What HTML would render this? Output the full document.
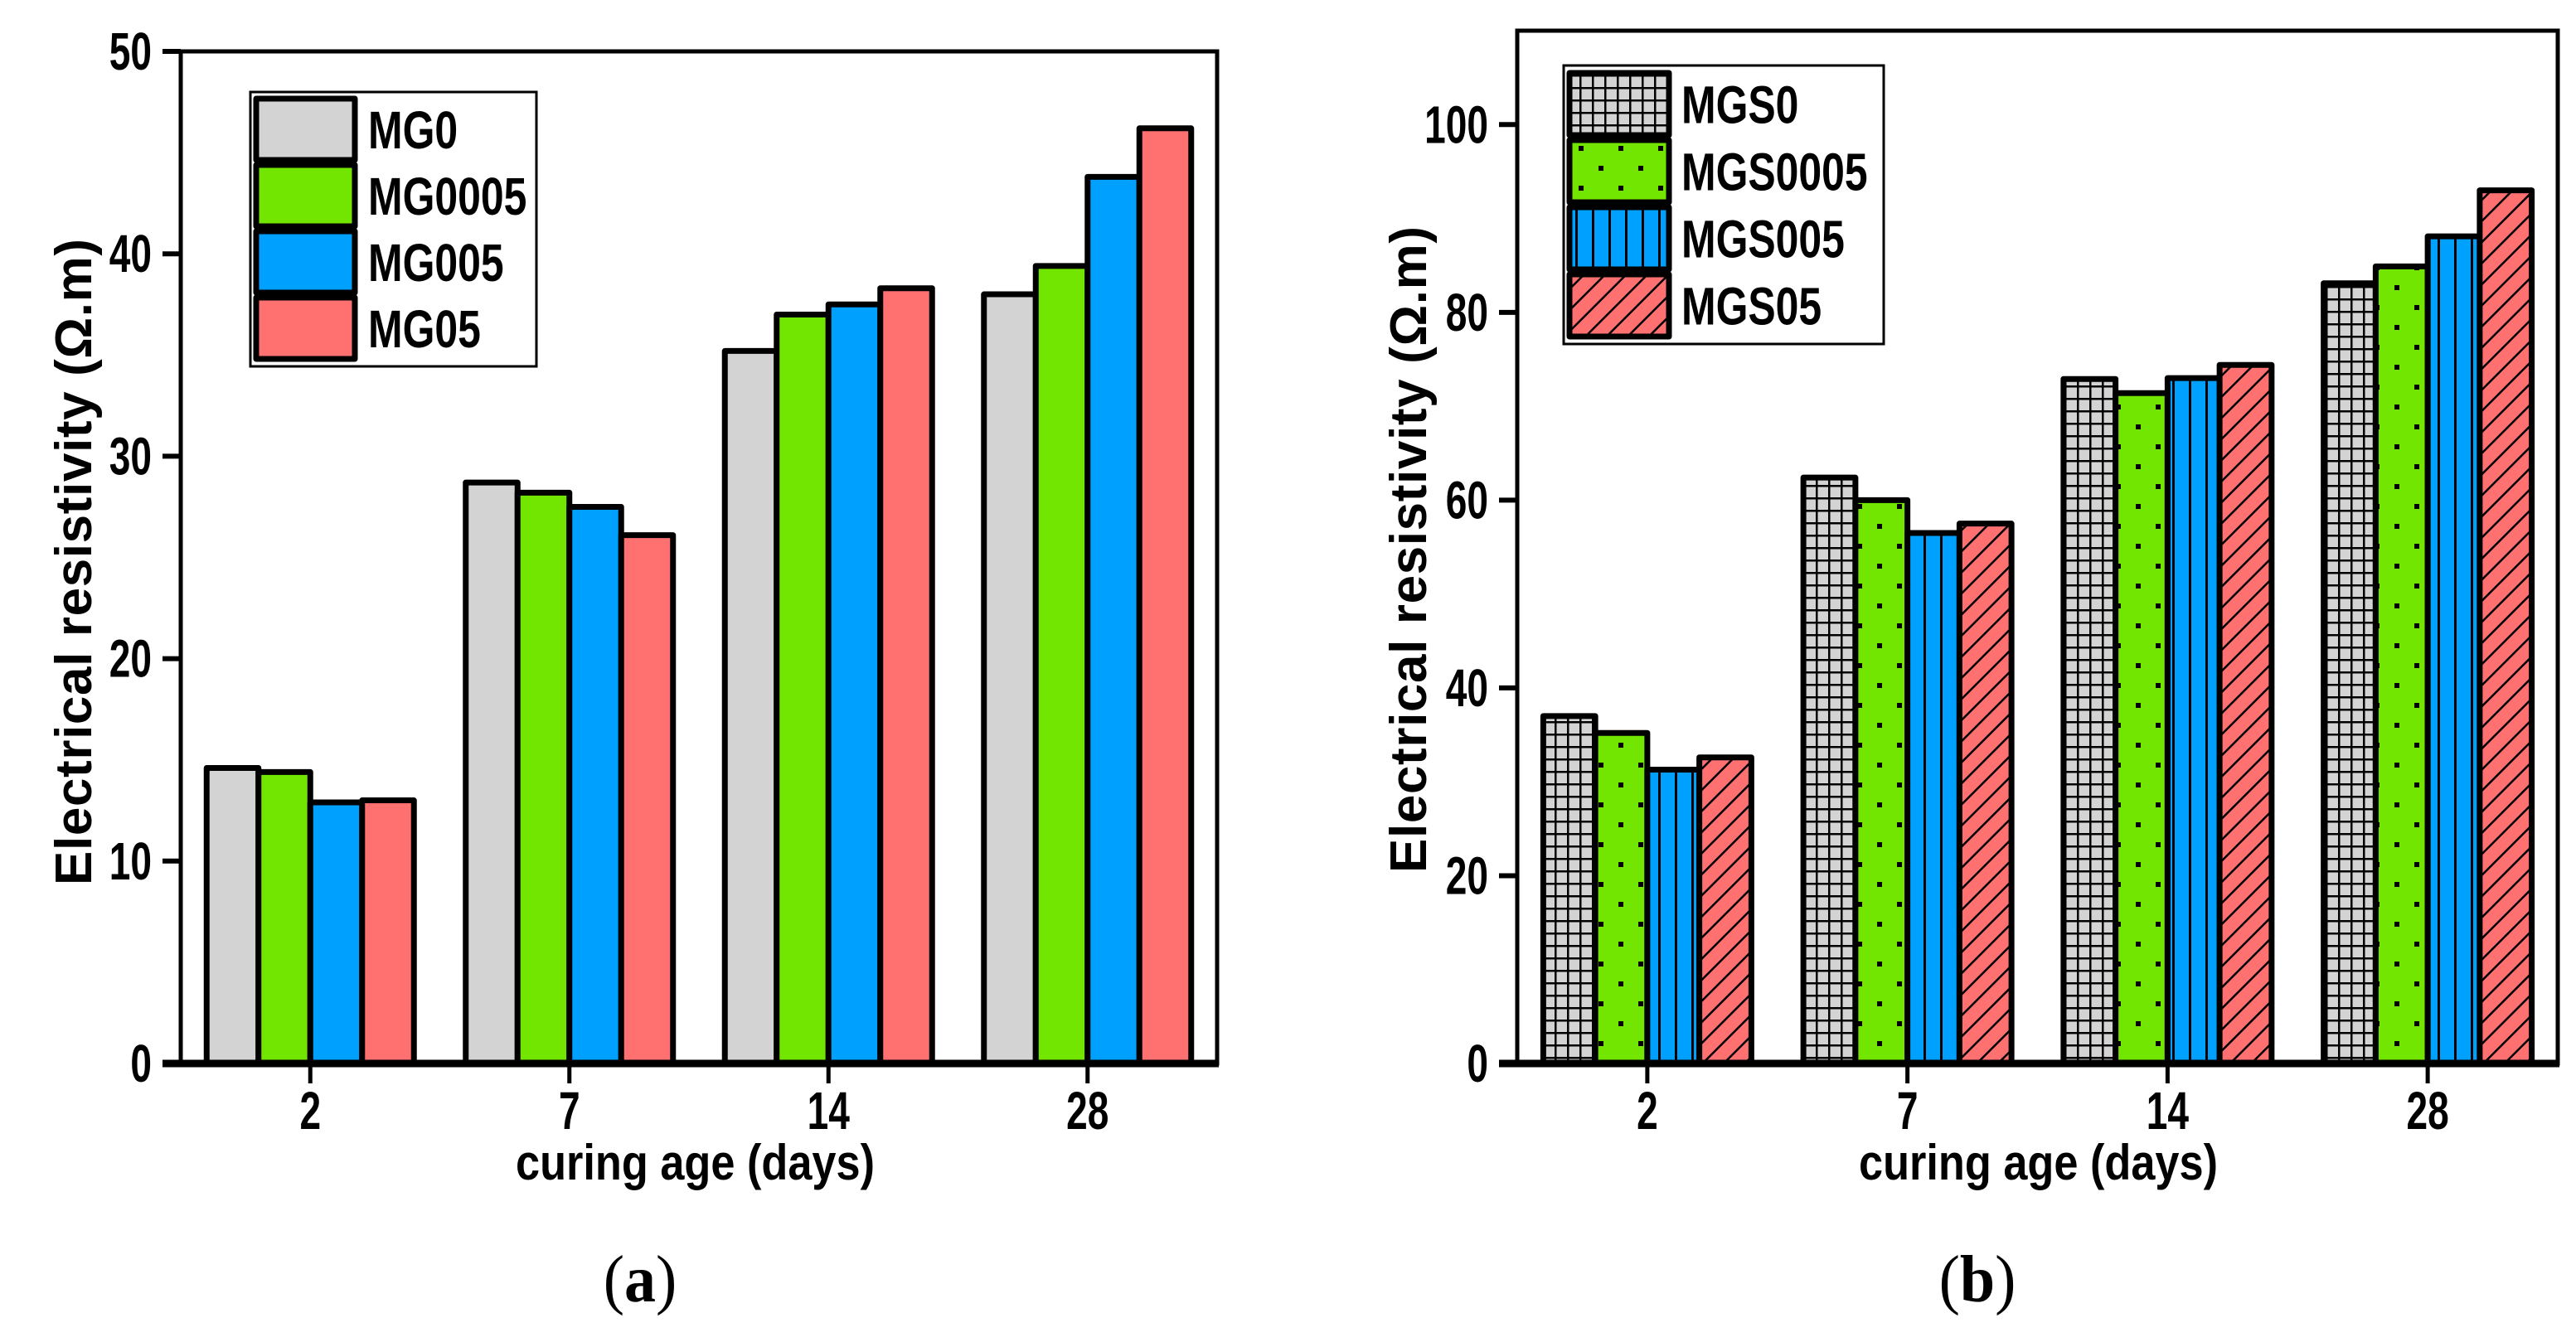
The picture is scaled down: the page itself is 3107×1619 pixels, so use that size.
<!DOCTYPE html>
<html><head><meta charset="utf-8">
<style>
html,body{margin:0;padding:0;background:#fff;}
svg{display:block;}
text{font-family:"Liberation Sans",sans-serif;font-weight:bold;fill:#000;}
text.cap{font-family:"Liberation Serif",serif;font-weight:normal;}
</style></head>
<body>
<svg id="fig" width="3107" height="1619" viewBox="0 0 3107 1619" xmlns="http://www.w3.org/2000/svg">
<defs>
<pattern id="pGrid" patternUnits="userSpaceOnUse" width="15" height="15"><rect width="15" height="15" fill="#d3d3d3"/><rect x="0" y="0" width="2.5" height="15" fill="#000"/><rect x="0" y="0" width="15" height="2.5" fill="#000"/></pattern>
<pattern id="pDot" patternUnits="userSpaceOnUse" width="48" height="48"><rect width="48" height="48" fill="#72e600"/><rect x="8" y="8" width="6" height="6" fill="#000"/><rect x="32" y="32" width="6" height="6" fill="#000"/></pattern>
<pattern id="pVert" patternUnits="userSpaceOnUse" width="20" height="20"><rect width="20" height="20" fill="#00a0ff"/><rect x="0" y="0" width="3" height="20" fill="#000"/></pattern>
<pattern id="pHatch" patternUnits="userSpaceOnUse" width="18" height="18" patternTransform="rotate(45)"><rect width="18" height="18" fill="#ff7070"/><rect x="0" y="0" width="2.5" height="18" fill="#000"/></pattern>
</defs>
</svg>
<script>
const categories = ["2","7","14","28"];
const seriesA = ["MG0","MG0005","MG005","MG05"];
const valuesA = [[14.6,28.7,35.2,38.0],[14.4,28.2,37.0,39.4],[12.9,27.5,37.5,43.8],[13.0,26.1,38.3,46.2]];
const ticksA = [0,10,20,30,40,50];
const seriesB = ["MGS0","MGS0005","MGS005","MGS05"];
const valuesB = [[37.0,62.4,72.9,83.1],[35.2,60.0,71.4,84.9],[31.3,56.5,73.0,88.1],[32.6,57.5,74.4,93.0]];
const ticksB = [0,20,40,60,80,100];

const NS="http://www.w3.org/2000/svg";
const svg=document.getElementById('fig');
function mk(tag,attrs,parent,txt){const e=document.createElementNS(NS,tag);for(const k in attrs)e.setAttribute(k,attrs[k]);if(txt!==undefined)e.textContent=txt;(parent||svg).appendChild(e);return e;}

function chart(cfg){
  const g=mk('g',{});
  
  
  const {L,R,T,B,ymax}=cfg;
  const y=v=>B-(v/ymax)*(B-T);
  const band=(R-L)/categories.length;
  const bw=band*0.8/4;
  const xc=i=>L+band*(i+0.5);
  cfg.values.forEach((ser,s)=>{
    ser.forEach((v,i)=>{
      const x=xc(i)-2*bw+s*bw;
      const r=mk('rect',{x:x,y:y(v),width:bw,height:B-y(v),fill:cfg.fills[s],stroke:'#000','stroke-width':7,'stroke-linejoin':'round'},g);
      
      
    });
  });
  const f=mk('rect',{x:L,y:T,width:R-L,height:B-T,fill:'none',stroke:'#000','stroke-width':5},g);
  
  
  mk('line',{x1:L-22,x2:R+2,y1:B,y2:B,stroke:'#000','stroke-width':9},g);
  cfg.ticks.forEach(t=>{
    mk('line',{x1:L-22,x2:L,y1:y(t),y2:y(t),stroke:'#000','stroke-width':6},g);
    const tx=mk('text',{'text-anchor':'end','font-size':64,transform:`translate(${cfg.tickR},${y(t)+22}) scale(0.72,1)`},g,String(t));
    
    
  });
  categories.forEach((c,i)=>{
    mk('line',{x1:xc(i),x2:xc(i),y1:B,y2:B+24,stroke:'#000','stroke-width':5},g);
    const tx=mk('text',{'text-anchor':'middle','font-size':64,transform:`translate(${xc(i)},${B+79}) scale(0.72,1)`},g,c);
    
    
  });
  const xt=mk('text',{x:cfg.xtX-216,y:B+140,'font-size':60,textLength:433,lengthAdjust:'spacingAndGlyphs'},g,'curing age (days)');
  
  
  const yt=mk('text',{x:-390,y:0,'font-size':62,textLength:780,lengthAdjust:'spacing',transform:`translate(${cfg.ytX},${cfg.ytY}) rotate(-90)`},g,'Electrical resistivity (Ω.m)');
  
  
  const lg=mk('g',{},g);
  
  
  const lb=cfg.leg;
  mk('rect',{x:lb.x,y:lb.y,width:lb.w,height:lb.h,fill:'#fff',stroke:'#000','stroke-width':3},lg);
  cfg.series.forEach((s,k)=>{
    const sy=lb.sy+k*lb.step;
    const sh=lb.step-6;
    const sw=mk('rect',{x:lb.sx,y:sy,width:lb.sw,height:sh,fill:cfg.fills[k],stroke:'#000','stroke-width':7,'stroke-linejoin':'round'},lg);
    
    
    const t=mk('text',{'font-size':64,transform:`translate(${lb.tx},${sy+sh/2+23}) scale(0.78,1)`},lg,s);
    
    
  });
  const cap=mk('text',{'text-anchor':'middle','font-size':80,'class':'cap',transform:`translate(${cfg.capX},1570) scale(0.95,1)`},g);
  
  
  mk('tspan',{},cap,'(');
  mk('tspan',{'font-weight':'bold'},cap,cfg.cap);
  mk('tspan',{},cap,')');
}

chart({name:'chart-a',L:218,R:1468,T:62,B:1283,ymax:50,values:valuesA,series:seriesA,ticks:ticksA,tickR:183,
  fills:['#d3d3d3','#72e600','#00a0ff','#ff7070'],xtX:838,ytX:110,ytY:678,
  leg:{x:302,y:111,w:345,h:331,sx:309,sy:119,step:80,sw:119,tx:444},capX:772,cap:'a'});
chart({name:'chart-b',L:1830,R:3085,T:37,B:1283,ymax:110,values:valuesB,series:seriesB,ticks:ticksB,tickR:1795,
  fills:['url(#pGrid)','url(#pDot)','url(#pVert)','url(#pHatch)'],xtX:2458,ytX:1720,ytY:663,
  leg:{x:1886,y:79,w:386,h:336,sx:1893,sy:88,step:81,sw:120,tx:2028},capX:2385,cap:'b'});
</script>
</body></html>
